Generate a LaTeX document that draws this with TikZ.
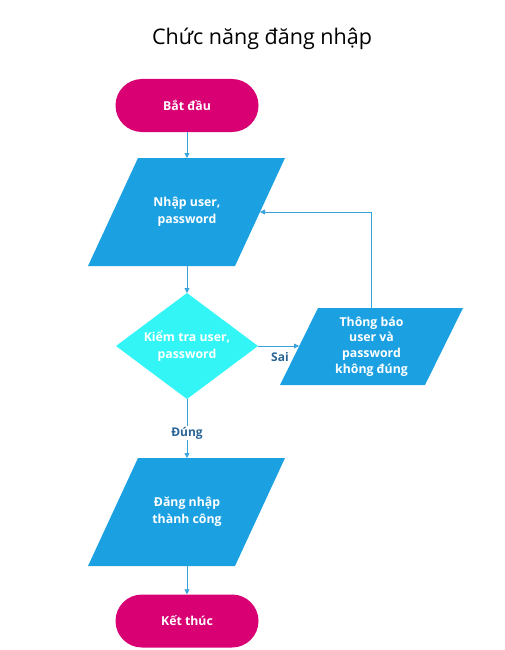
\documentclass[tikz,border=0pt]{standalone}
\usepackage{fontspec}
\setmainfont{Open Sans}
\usetikzlibrary{arrows.meta,shapes.misc}
\definecolor{termc}{HTML}{D80073}
\definecolor{ioc}{HTML}{1BA1E2}
\definecolor{decc}{HTML}{33F5F5}
\definecolor{connc}{HTML}{3BA3DC}
\definecolor{lblc}{HTML}{2A6496}
\begin{document}
\begin{tikzpicture}[x=1pt,y=-1pt,
  nodefont/.style={font=\bfseries\fontsize{12.3}{17}\selectfont},
  termbox/.style={rounded rectangle, fill=termc, minimum width=143pt, minimum height=53pt, inner sep=0pt, text=white, nodefont},
  iotext/.style={text=white, align=center, nodefont},
  ioshape/.style={fill=ioc},
  decshape/.style={fill=decc},
  conn/.style={draw=connc, line width=0.8pt, -{Triangle[length=5pt,width=5pt]}},
  lbl/.style={text=lblc, font=\bfseries\fontsize{12}{14}\selectfont, inner sep=1pt}]
\useasboundingbox (0,0) rectangle (504,650);
\node[font=\fontsize{21.5}{25}\selectfont] (title) at (262,39) {Chức năng đăng nhập};
\node[termbox] (start) at (187,105.5) {Bắt đầu};
% input
\fill[ioshape] (88,266) -- (138,158) -- (285,158) -- (235,266) -- cycle;
\node[iotext] (in) at (187,212) {Nhập user,\\password};
\coordinate (inN) at (187,158);
\coordinate (inS) at (187,266);
\coordinate (inE) at (260,212);
% decision
\fill[decshape] (187,293) -- (258,346) -- (187,399) -- (116,346) -- cycle;
\node[iotext] (dec) at (187,346) {Kiểm tra user,\\password};
\coordinate (decN) at (187,293);
\coordinate (decS) at (187,399);
\coordinate (decE) at (258,346);
% error message
\fill[ioshape] (280,385) -- (318,308) -- (463,308) -- (425,385) -- cycle;
\node[iotext, font=\bfseries\fontsize{12.3}{15.7}\selectfont] (err) at (371.5,346.5) {Thông báo\\user và\\password\\không đúng};
\coordinate (errW) at (299,346);
\coordinate (errN) at (371,308);
% success
\fill[ioshape] (88,566) -- (138,458) -- (285,458) -- (235,566) -- cycle;
\node[iotext] (ok) at (187,512) {Đăng nhập\\thành công};
\coordinate (okN) at (187,458);
\coordinate (okS) at (187,566);
\node[termbox] (end) at (187,621) {Kết thúc};
% connectors
\draw[conn] (start.south) -- (inN);
\draw[conn] (inS) -- (decN);
\draw[conn] (decE) -- (errW);
\node[lbl] (sai) at (280,357) {Sai};
\draw[conn] (errN) |- (inE);
\draw[conn] (decS) -- (okN);
\node[lbl, fill=white] (dung) at (187,433) {Đúng};
\draw[conn] (okS) -- (end.north);
\end{tikzpicture}
\end{document}
